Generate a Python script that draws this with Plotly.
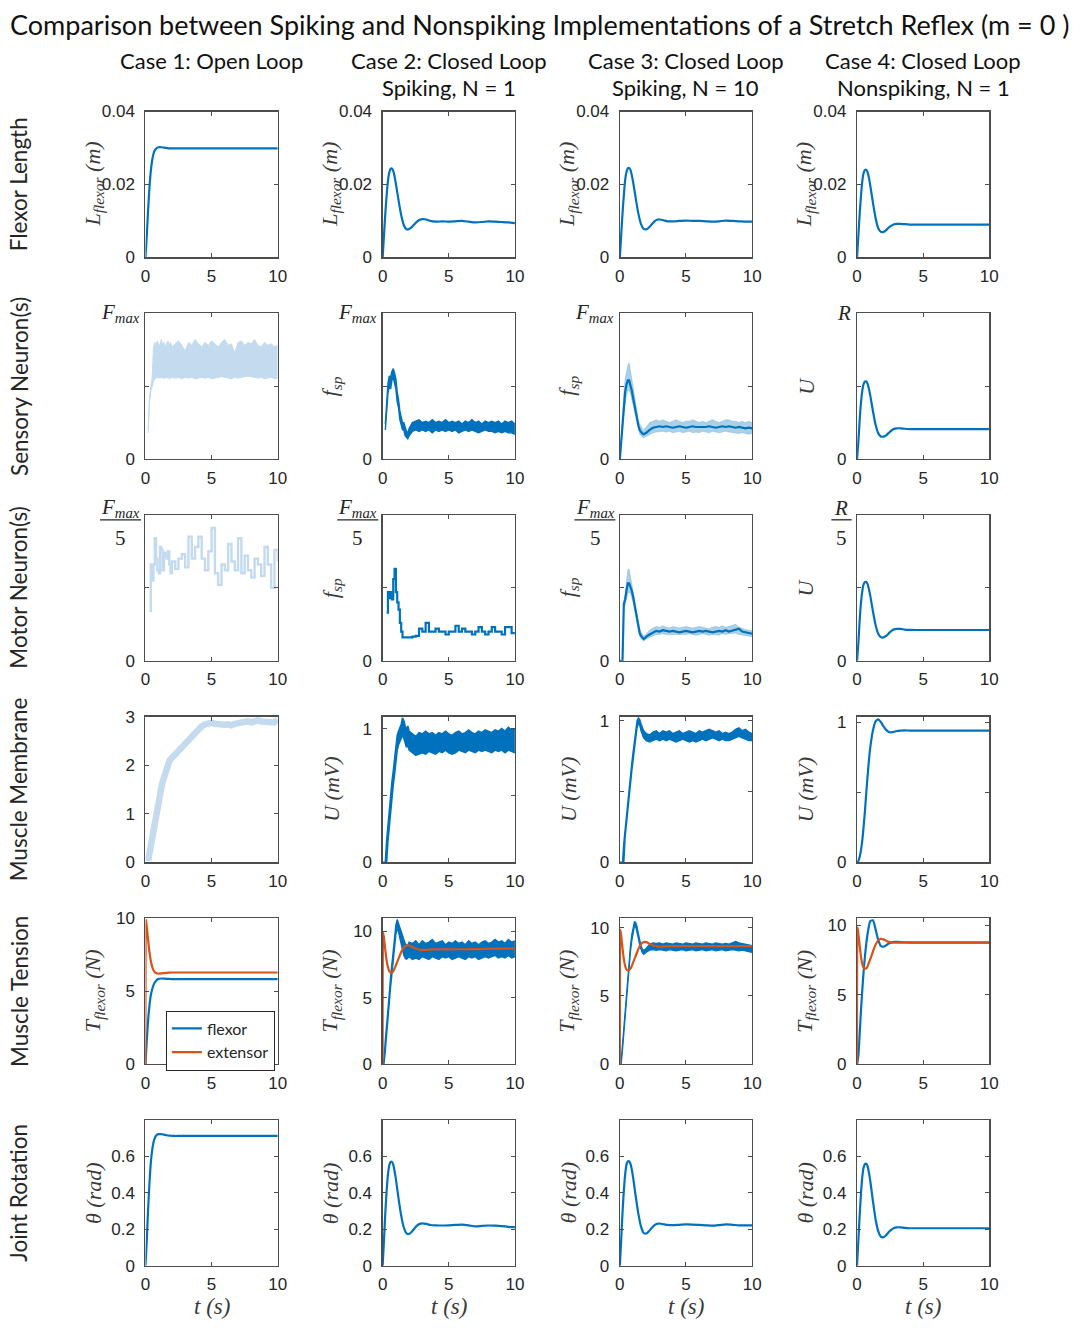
import plotly.graph_objects as go

# ---------------- data ----------------
# time grids (s)
T_S = [0, 0.1, 0.2, 0.3, 0.4, 0.5, 0.6, 0.7, 0.8, 0.9, 1.0,
       1.2, 1.4, 1.6, 1.8, 2.0, 2.2, 2.4, 2.6, 2.8, 3.0,
       3.3, 3.6, 4.0,
       4.5, 5.0, 5.5, 6.0, 6.5, 7.0, 7.5, 8.0, 8.5, 9.0, 9.5, 10.0]
T_E = [0, 0.04, 0.1, 0.2, 0.3, 0.4, 0.5, 0.6, 0.7, 0.8, 0.9, 1.0,
       1.2, 1.4, 1.6, 1.8, 2.0, 2.2, 2.4, 2.6, 2.8, 3.0,
       3.3, 3.6, 4.0,
       4.5, 5.0, 5.5, 6.0, 6.5, 7.0, 7.5, 8.0, 8.5, 9.0, 9.5, 10.0]
T_B = [0, 0.1, 0.2, 0.3, 0.4, 0.5, 0.6, 0.7, 0.8, 0.9, 1.0,
       1.1, 1.2, 1.3, 1.4, 1.5, 1.6, 1.7, 1.8, 1.9, 2.0,
       2.25, 2.5, 2.75, 3.0, 3.25, 3.5, 3.75, 4.0, 4.25, 4.5, 4.75, 5.0,
       5.25, 5.5, 5.75, 6.0, 6.25, 6.5, 6.75, 7.0, 7.25, 7.5, 7.75, 8.0,
       8.25, 8.5, 8.75, 9.0, 9.25, 9.5, 9.75, 10.0]

# Row 1: flexor length (m)
len_c1 = [0, 0.006, 0.013, 0.019, 0.0235, 0.0265, 0.0283, 0.0293, 0.0298, 0.0301, 0.0302,
          0.0302, 0.0301, 0.0300, 0.0299, 0.0299, 0.0299, 0.0299, 0.0299, 0.0299, 0.0299,
          0.0299, 0.0299, 0.0299] + [0.0299] * 12
len_c2 = [0, 0.006, 0.012, 0.017, 0.0210, 0.0233, 0.0243, 0.0244, 0.0237, 0.0222, 0.0202,
          0.0157, 0.0116, 0.0088, 0.0077, 0.0078, 0.0083, 0.0091, 0.0098, 0.0103, 0.0105,
          0.0104, 0.0100, 0.0098,
          0.0099, 0.0098, 0.0099, 0.0100, 0.0098, 0.0096, 0.0097, 0.0099, 0.0098, 0.0097, 0.0096, 0.0094]
len_c3 = [0, 0.006, 0.012, 0.017, 0.0212, 0.0234, 0.0244, 0.0245, 0.0240, 0.0226, 0.0207,
          0.0162, 0.0120, 0.0091, 0.0078, 0.0077, 0.0082, 0.0090, 0.0098, 0.0103, 0.0104,
          0.0102, 0.0099, 0.0099,
          0.0100, 0.0101, 0.0100, 0.0100, 0.0099, 0.0098, 0.0099, 0.0101, 0.0100, 0.0099, 0.0098, 0.0098]
len_c4 = [0, 0.006, 0.012, 0.017, 0.0210, 0.0232, 0.0240, 0.0240, 0.0233, 0.0218, 0.0197,
          0.0150, 0.0108, 0.0080, 0.0070, 0.0070, 0.0075, 0.0082, 0.0087, 0.0091, 0.0092,
          0.0092, 0.0091, 0.0090] + [0.0090] * 12

# Row 2: sensory neuron(s), fraction of Fmax / R
sens_c1_hi = [0.20, 0.42, 0.50, 0.55, 0.76, 0.80, 0.78, 0.81, 0.79, 0.77, 0.82, 0.78, 0.80, 0.77, 0.79, 0.81, 0.78, 0.80, 0.77,
              0.79, 0.81, 0.78, 0.74, 0.80, 0.78, 0.82, 0.79, 0.77, 0.80, 0.78, 0.81, 0.79, 0.77, 0.80, 0.82,
              0.78, 0.79, 0.73, 0.80, 0.81, 0.78, 0.80, 0.79, 0.82, 0.78, 0.77, 0.80, 0.78, 0.79, 0.77, 0.78]
sens_c1_lo = [0.18, 0.38, 0.46, 0.50, 0.53, 0.55, 0.555, 0.56, 0.555, 0.56, 0.555, 0.56, 0.55, 0.56, 0.555, 0.56, 0.55, 0.555, 0.56,
              0.555, 0.56, 0.55, 0.56, 0.555, 0.56, 0.55, 0.555, 0.56, 0.555, 0.56, 0.55, 0.555, 0.56, 0.565, 0.56,
              0.555, 0.55, 0.56, 0.555, 0.56, 0.565, 0.57, 0.565, 0.56, 0.555, 0.56, 0.55, 0.555, 0.56, 0.55, 0.555]
sens_c2_hi = [0.24, 0.40, 0.52, 0.57, 0.56, 0.60, 0.62, 0.59, 0.55, 0.46, 0.41, 0.33, 0.29, 0.25, 0.25, 0.21, 0.19, 0.18, 0.21,
              0.25, 0.26, 0.27, 0.25, 0.26, 0.25, 0.27, 0.25, 0.26, 0.25, 0.27, 0.25, 0.26, 0.25, 0.26, 0.24,
              0.26, 0.25, 0.27, 0.25, 0.26, 0.24, 0.26, 0.25, 0.26, 0.25, 0.26, 0.24, 0.26, 0.25, 0.26, 0.24]
sens_c2_lo = [0.20, 0.33, 0.45, 0.50, 0.48, 0.54, 0.56, 0.52, 0.48, 0.39, 0.35, 0.27, 0.24, 0.20, 0.20, 0.16, 0.15, 0.14, 0.16,
              0.19, 0.20, 0.19, 0.20, 0.19, 0.20, 0.18, 0.20, 0.19, 0.20, 0.19, 0.20, 0.19, 0.20, 0.18, 0.19,
              0.20, 0.19, 0.20, 0.19, 0.18, 0.19, 0.20, 0.19, 0.19, 0.18, 0.19, 0.18, 0.19, 0.18, 0.18, 0.17]
sens_c3_mean = [0, 0.12, 0.26, 0.38, 0.46, 0.51, 0.54, 0.54, 0.51, 0.47, 0.42, 0.37, 0.32, 0.27, 0.23, 0.20, 0.185, 0.175, 0.17, 0.175, 0.18,
                0.20, 0.215, 0.22, 0.225, 0.22, 0.225, 0.22, 0.215, 0.22, 0.225, 0.22, 0.215, 0.22, 0.225, 0.22, 0.22,
                0.215, 0.22, 0.225, 0.22, 0.215, 0.22, 0.225, 0.22, 0.225, 0.22, 0.215, 0.22, 0.215, 0.21, 0.215, 0.21]
sens_c3_hi = [0, 0.16, 0.32, 0.45, 0.55, 0.60, 0.64, 0.66, 0.61, 0.56, 0.50, 0.44, 0.38, 0.32, 0.27, 0.24, 0.22, 0.21, 0.20, 0.21, 0.22,
              0.25, 0.26, 0.27, 0.26, 0.27, 0.26, 0.25, 0.26, 0.27, 0.26, 0.25, 0.26, 0.26, 0.27, 0.26, 0.25,
              0.26, 0.25, 0.26, 0.27, 0.26, 0.25, 0.26, 0.27, 0.27, 0.26, 0.26, 0.25, 0.26, 0.25, 0.26, 0.25]
sens_c3_lo = [0, 0.08, 0.20, 0.31, 0.39, 0.44, 0.47, 0.47, 0.45, 0.41, 0.36, 0.31, 0.27, 0.23, 0.20, 0.17, 0.16, 0.15, 0.145, 0.15, 0.155,
              0.17, 0.18, 0.185, 0.19, 0.19, 0.185, 0.19, 0.18, 0.185, 0.19, 0.18, 0.185, 0.19, 0.18, 0.185, 0.18,
              0.19, 0.185, 0.18, 0.19, 0.185, 0.18, 0.185, 0.19, 0.185, 0.18, 0.18, 0.175, 0.18, 0.175, 0.17, 0.175]
sens_c4 = [0, 0.12, 0.27, 0.39, 0.47, 0.515, 0.532, 0.532, 0.515, 0.48, 0.435,
           0.33, 0.235, 0.178, 0.155, 0.154, 0.163, 0.18, 0.196, 0.207, 0.211,
           0.211, 0.208, 0.206] + [0.205] * 12

# Row 3: motor neuron(s), fraction of Fmax/5 / R/5
mot_c1 = [0.34, 0.66, 0.55, 0.66, 0.84, 0.70, 0.62, 0.60, 0.78, 0.76, 0.62, 0.74, 0.72, 0.70, 0.75, 0.66, 0.60, 0.68,
          0.63, 0.70, 0.73, 0.64, 0.85, 0.70, 0.78, 0.85, 0.70, 0.62, 0.75, 0.91, 0.60, 0.52, 0.66, 0.62,
          0.80, 0.68, 0.62, 0.84, 0.60, 0.72, 0.62, 0.57, 0.70, 0.66, 0.58, 0.78, 0.66, 0.50, 0.76, 0.68]
mot_c2 = [0.33, 0.47, 0.43, 0.47, 0.42, 0.56, 0.63, 0.47, 0.40, 0.35, 0.26, 0.20, 0.16, 0.16, 0.16, 0.16, 0.16, 0.16,
          0.165, 0.17, 0.22, 0.20, 0.26, 0.20, 0.20, 0.22, 0.20, 0.20, 0.18, 0.20, 0.20, 0.24, 0.20, 0.22,
          0.20, 0.20, 0.18, 0.20, 0.23, 0.20, 0.18, 0.20, 0.23, 0.20, 0.20, 0.18, 0.23, 0.23, 0.19, 0.19]
mot_c3_mean = [0, 0, 0, 0.39, 0.42, 0.48, 0.53, 0.53, 0.51, 0.48, 0.44, 0.39, 0.33, 0.28, 0.23, 0.19, 0.17, 0.155, 0.15, 0.155, 0.165,
               0.18, 0.195, 0.205, 0.20, 0.21, 0.205, 0.20, 0.205, 0.20, 0.195, 0.20, 0.205, 0.20, 0.195, 0.20, 0.205,
               0.20, 0.205, 0.20, 0.195, 0.20, 0.205, 0.20, 0.21, 0.20, 0.205, 0.21, 0.22, 0.20, 0.195, 0.19, 0.185]
mot_c3_hi = [0, 0, 0, 0.41, 0.46, 0.55, 0.62, 0.63, 0.58, 0.53, 0.48, 0.43, 0.37, 0.31, 0.26, 0.22, 0.195, 0.18, 0.17, 0.175, 0.185,
             0.21, 0.225, 0.235, 0.23, 0.24, 0.23, 0.225, 0.235, 0.23, 0.225, 0.23, 0.235, 0.23, 0.225, 0.23, 0.235,
             0.23, 0.225, 0.22, 0.23, 0.235, 0.23, 0.24, 0.23, 0.235, 0.245, 0.25, 0.23, 0.22, 0.215, 0.21, 0.205]
mot_c3_lo = [0, 0, 0, 0.36, 0.38, 0.42, 0.46, 0.47, 0.46, 0.43, 0.40, 0.35, 0.30, 0.25, 0.205, 0.17, 0.15, 0.14, 0.135, 0.14, 0.15,
             0.16, 0.17, 0.18, 0.18, 0.185, 0.18, 0.18, 0.175, 0.18, 0.18, 0.175, 0.18, 0.185, 0.18, 0.175, 0.18,
             0.185, 0.18, 0.175, 0.18, 0.18, 0.175, 0.185, 0.18, 0.185, 0.19, 0.19, 0.18, 0.175, 0.17, 0.165, 0.165]
mot_c4 = [0, 0.12, 0.28, 0.40, 0.48, 0.525, 0.54, 0.54, 0.525, 0.49, 0.445,
          0.34, 0.245, 0.186, 0.162, 0.16, 0.17, 0.188, 0.205, 0.215, 0.219,
          0.218, 0.214, 0.212] + [0.211] * 12

# Row 4: muscle membrane U (mV)
mem_c1 = [0.03, 0.20, 0.36, 0.52, 0.68, 0.86, 1.03, 1.17, 1.30, 1.42, 1.54, 1.66, 1.77, 1.88, 1.97, 2.04, 2.08, 2.12, 2.15,
          2.21, 2.27, 2.34, 2.42, 2.50, 2.58, 2.66, 2.74, 2.80, 2.84, 2.86, 2.87, 2.85, 2.84, 2.82, 2.83,
          2.84, 2.82, 2.85, 2.87, 2.89, 2.90, 2.90, 2.88, 2.91, 2.92, 2.90, 2.89, 2.91, 2.90, 2.88, 2.94]
mem_c2_hi = [0, 0, 0, 0.16, 0.28, 0.40, 0.50, 0.60, 0.68, 0.78, 0.88, 0.95, 0.98, 1.00, 1.03, 1.08, 1.06, 1.02, 0.99, 1.02, 0.98,
             0.96, 0.94, 0.97, 0.96, 0.98, 0.96, 0.97, 0.95, 0.97, 0.96, 0.98, 0.96, 0.95, 0.97, 0.98, 0.96,
             0.97, 0.99, 0.97, 0.96, 0.98, 0.97, 0.99, 0.98, 0.97, 0.99, 0.98, 1.00, 0.98, 1.01, 0.99, 1.00]
mem_c2_lo = [0, 0, 0, 0, 0.16, 0.28, 0.38, 0.48, 0.58, 0.66, 0.76, 0.84, 0.88, 0.90, 0.92, 0.95, 0.93, 0.90, 0.86, 0.88, 0.84,
             0.82, 0.80, 0.81, 0.82, 0.81, 0.83, 0.82, 0.81, 0.83, 0.82, 0.84, 0.82, 0.81, 0.82, 0.84, 0.83,
             0.82, 0.84, 0.83, 0.82, 0.84, 0.83, 0.84, 0.83, 0.82, 0.84, 0.83, 0.84, 0.82, 0.84, 0.83, 0.82]
mem_c3_hi = [0, 0, 0, 0.14, 0.24, 0.34, 0.44, 0.53, 0.62, 0.70, 0.78, 0.86, 0.94, 1.00, 1.02, 1.01, 0.98, 0.95, 0.93, 0.92, 0.91,
             0.90, 0.92, 0.93, 0.91, 0.93, 0.92, 0.93, 0.91, 0.92, 0.93, 0.91, 0.92, 0.93, 0.92, 0.91, 0.93,
             0.92, 0.93, 0.94, 0.93, 0.92, 0.93, 0.91, 0.92, 0.91, 0.92, 0.94, 0.95, 0.93, 0.94, 0.92, 0.91]
mem_c3_lo = [0, 0, 0, 0, 0.18, 0.28, 0.38, 0.47, 0.56, 0.64, 0.72, 0.80, 0.88, 0.95, 0.98, 0.97, 0.93, 0.90, 0.88, 0.87, 0.86,
             0.85, 0.86, 0.87, 0.86, 0.87, 0.86, 0.87, 0.86, 0.85, 0.86, 0.87, 0.86, 0.85, 0.86, 0.85, 0.86,
             0.87, 0.86, 0.87, 0.88, 0.87, 0.86, 0.87, 0.86, 0.86, 0.87, 0.88, 0.89, 0.88, 0.87, 0.86, 0.86]
mem_c4 = [0, 0.01, 0.04, 0.09, 0.16, 0.26, 0.37, 0.50, 0.62, 0.73, 0.82,
          0.94, 1.005, 1.02, 1.00, 0.97, 0.945, 0.93, 0.928, 0.932, 0.937,
          0.94, 0.941, 0.94] + [0.94] * 12

# Row 5: muscle tension (N)
flex_c1 = [0, 1.6, 3.0, 4.0, 4.7, 5.1, 5.4, 5.6, 5.72, 5.8, 5.84,
           5.87, 5.86, 5.85, 5.84, 5.83, 5.82, 5.82, 5.82, 5.82, 5.82,
           5.82, 5.82, 5.82] + [5.82] * 12
ext_c1 = [0, 9.9, 9.4, 8.5, 7.7, 7.1, 6.7, 6.45, 6.32, 6.25, 6.22, 6.21,
          6.22, 6.24, 6.26, 6.27, 6.28, 6.28, 6.28, 6.28, 6.28, 6.28,
          6.28, 6.28, 6.28] + [6.28] * 12
flex_c2_hi = [0, 0.4, 1.8, 3.2, 4.2, 5.3, 6.6, 7.6, 8.6, 9.6, 10.5, 10.9, 10.6, 10.2, 9.9, 9.6, 9.4, 9.1, 9.0, 8.9, 9.2,
              9.1, 9.3, 9.0, 9.3, 9.1, 9.2, 9.4, 9.1, 9.2, 9.3, 9.0, 9.2, 9.1, 9.3, 9.1, 9.2,
              9.0, 9.3, 9.1, 9.2, 9.0, 9.2, 9.3, 9.1, 9.2, 9.4, 9.2, 9.3, 9.1, 9.4, 9.2, 9.3]
flex_c2_lo = [0, 0, 1.0, 2.4, 3.5, 4.6, 5.8, 6.9, 7.8, 8.8, 9.8, 10.2, 10.0, 9.5, 9.0, 8.6, 8.2, 8.0, 7.9, 8.0, 8.1,
              7.9, 8.0, 7.9, 8.1, 8.0, 7.9, 8.1, 8.0, 7.9, 8.1, 8.0, 8.1, 7.9, 8.0, 8.1, 8.0,
              7.9, 8.1, 8.0, 8.1, 7.9, 8.0, 8.1, 8.0, 8.1, 8.2, 8.0, 8.1, 8.0, 8.2, 8.0, 8.1]
ext_c2 = [0, 9.9, 9.5, 8.6, 7.8, 7.3, 7.0, 6.9, 6.9, 7.0, 7.2, 7.45,
          7.95, 8.45, 8.8, 8.95, 8.95, 8.85, 8.75, 8.68, 8.64, 8.62,
          8.62, 8.64, 8.65,
          8.66, 8.65, 8.66, 8.66, 8.66, 8.67, 8.68, 8.70, 8.70, 8.71, 8.72, 8.72]
flex_c3_hi = [0, 0.3, 1.5, 2.8, 4.1, 5.4, 6.6, 7.7, 8.7, 9.5, 10.1, 10.45, 10.4, 10.1, 9.6, 9.1, 8.7, 8.45, 8.35, 8.4, 8.5,
              8.8, 8.9, 8.85, 8.9, 8.8, 8.9, 8.85, 8.8, 8.9, 8.85, 8.8, 8.9, 8.85, 8.8, 8.9, 8.85,
              8.8, 8.9, 8.85, 8.8, 8.9, 8.85, 8.8, 8.85, 8.8, 8.9, 9.0, 8.9, 8.85, 8.8, 8.75, 8.7]
flex_c3_lo = [0, 0, 1.0, 2.3, 3.6, 4.9, 6.1, 7.2, 8.2, 9.0, 9.7, 10.1, 10.05, 9.7, 9.2, 8.7, 8.35, 8.15, 8.05, 8.1, 8.2,
              8.35, 8.4, 8.35, 8.4, 8.35, 8.3, 8.4, 8.35, 8.3, 8.35, 8.4, 8.3, 8.35, 8.4, 8.3, 8.35,
              8.4, 8.3, 8.35, 8.4, 8.3, 8.35, 8.4, 8.3, 8.35, 8.4, 8.35, 8.3, 8.35, 8.3, 8.25, 8.2]
ext_c3 = [0, 9.85, 9.4, 8.5, 7.7, 7.2, 6.95, 6.88, 6.9, 7.0, 7.2, 7.45,
          7.95, 8.45, 8.8, 8.95, 8.95, 8.85, 8.75, 8.68, 8.64, 8.62,
          8.62, 8.64, 8.65] + [8.66] * 12
flex_c4 = [0, 0.6, 2.2, 3.9, 5.4, 6.7, 7.8, 8.7, 9.4, 9.95, 10.3,
           10.35, 9.7, 8.95, 8.5, 8.45, 8.55, 8.68, 8.76, 8.8, 8.8,
           8.78, 8.76, 8.75] + [8.75] * 12
ext_c4 = [0, 9.85, 9.4, 8.5, 7.7, 7.2, 6.95, 6.88, 6.9, 7.05, 7.3, 7.55,
          8.1, 8.6, 8.92, 9.02, 8.98, 8.88, 8.8, 8.76, 8.74, 8.74,
          8.75, 8.76, 8.76] + [8.76] * 12

# Row 6: joint rotation (rad)
th_c1 = [0, 0.14, 0.31, 0.45, 0.56, 0.63, 0.675, 0.70, 0.713, 0.72, 0.722,
         0.722, 0.719, 0.716, 0.714, 0.713, 0.712, 0.712, 0.712, 0.712, 0.712,
         0.712, 0.712, 0.712] + [0.712] * 12
th_c2 = [0, 0.14, 0.29, 0.41, 0.50, 0.55, 0.57, 0.57, 0.555, 0.52, 0.475,
         0.37, 0.275, 0.21, 0.178, 0.175, 0.187, 0.205, 0.22, 0.23, 0.233,
         0.23, 0.224, 0.222,
         0.221, 0.222, 0.224, 0.226, 0.222, 0.216, 0.219, 0.221, 0.220, 0.218, 0.214, 0.212]
th_c3 = [0, 0.14, 0.29, 0.41, 0.50, 0.555, 0.572, 0.573, 0.56, 0.53, 0.485,
         0.38, 0.285, 0.215, 0.18, 0.177, 0.19, 0.207, 0.222, 0.23, 0.232,
         0.228, 0.224, 0.223,
         0.225, 0.227, 0.226, 0.224, 0.222, 0.220, 0.223, 0.227, 0.225, 0.222, 0.222, 0.222]
th_c4 = [0, 0.14, 0.28, 0.40, 0.49, 0.54, 0.558, 0.56, 0.545, 0.51, 0.465,
         0.355, 0.255, 0.19, 0.16, 0.157, 0.168, 0.185, 0.198, 0.207, 0.211,
         0.211, 0.208, 0.206] + [0.206] * 12

# text
TITLE = "Comparison between Spiking and Nonspiking Implementations of a Stretch Reflex (m = 0 )"
CASE_L1 = ["Case 1: Open Loop", "Case 2: Closed Loop", "Case 3: Closed Loop", "Case 4: Closed Loop"]
CASE_L2 = ["", "Spiking, N = 1", "Spiking, N = 10", "Nonspiking, N = 1"]
ROW_NAMES = ["Flexor Length", "Sensory Neuron(s)", "Motor Neuron(s)", "Muscle Membrane", "Muscle Tension", "Joint Rotation"]
X_TICKS = [0, 5, 10]

# ---------------- styling / layout ----------------
BLUE = "#0072BD"
ORANGE = "#D95319"
LIGHT = "#C4DBEF"
BAND = "rgba(0,114,189,0.33)"
AXC = "#4d4d4d"
TXT = "#262626"
LAB = "#3a3a3a"
SANS = "Lato"
TICKF = "Liberation Sans"
SERIF = "Liberation Serif"

W, H = 1084, 1332
COL_L = [142.3, 382.6, 622.9, 863.2]
COL_W = 134.0
ROW_T = [104.0, 308.6, 513.2, 717.8, 922.4, 1127.0]
ROW_H = 148.0

fig = go.Figure()


def ids(r, c):
    n = r * 4 + c + 1
    return ("x" if n == 1 else f"x{n}"), ("y" if n == 1 else f"y{n}"), n


def add_line(r, c, x, y, color, width=2.2, shape="linear", name=None, legend=False,
             fill=None, fillcolor=None):
    assert len(x) == len(y), (r, c, len(x), len(y))
    xa, ya, _ = ids(r, c)
    ln = dict(color=color, width=width, shape=shape)
    if shape == "spline":
        ln["smoothing"] = 0.6
    fig.add_trace(go.Scatter(x=x, y=y, mode="lines", xaxis=xa, yaxis=ya, line=ln,
                             showlegend=legend, name=name, fill=fill, fillcolor=fillcolor,
                             hoverinfo="skip"))


def add_band(r, c, x, lo, hi, fillcolor, edgecolor, edge_w):
    add_line(r, c, x, lo, edgecolor, edge_w)
    add_line(r, c, x, hi, edgecolor, edge_w, fill="tonexty", fillcolor=fillcolor)


# Row 1
for c, series in enumerate([len_c1, len_c2, len_c3, len_c4]):
    add_line(0, c, T_S, series, BLUE, 2.2, "spline")

# Row 2
add_band(1, 0, T_B[2:], sens_c1_lo, sens_c1_hi, LIGHT, LIGHT, 1.0)
add_band(1, 1, T_B[2:], sens_c2_lo, sens_c2_hi, BLUE, BLUE, 1.4)
add_band(1, 2, T_B, sens_c3_lo, sens_c3_hi, BAND, "rgba(0,114,189,0.35)", 0.6)
add_line(1, 2, T_B, sens_c3_mean, BLUE, 2.2)
add_line(1, 3, T_S, sens_c4, BLUE, 2.2, "spline")

# Row 3
add_line(2, 0, T_B[3:], mot_c1, LIGHT, 2.4, "hv")
add_line(2, 1, T_B[3:], mot_c2, BLUE, 2.2, "hv")
add_band(2, 2, T_B, mot_c3_lo, mot_c3_hi, BAND, "rgba(0,114,189,0.35)", 0.6)
add_line(2, 2, T_B, mot_c3_mean, BLUE, 2.2)
add_line(2, 3, T_S, mot_c4, BLUE, 2.2, "spline")

# Row 4
add_line(3, 0, T_B[2:], mem_c1, LIGHT, 6.5)
add_band(3, 1, T_B, mem_c2_lo, mem_c2_hi, BLUE, BLUE, 1.6)
add_band(3, 2, T_B, mem_c3_lo, mem_c3_hi, BLUE, BLUE, 1.4)
add_line(3, 3, T_S, mem_c4, BLUE, 2.2, "spline")

# Row 5
add_line(4, 0, T_S, flex_c1, BLUE, 2.2, "spline", name="flexor", legend=True)
add_line(4, 0, T_E, ext_c1, ORANGE, 2.2, "spline", name="extensor", legend=True)
add_band(4, 1, T_B, flex_c2_lo, flex_c2_hi, BLUE, BLUE, 1.4)
add_line(4, 1, T_E, ext_c2, ORANGE, 2.2, "spline")
add_band(4, 2, T_B, flex_c3_lo, flex_c3_hi, BLUE, BLUE, 1.2)
add_line(4, 2, T_E, ext_c3, ORANGE, 2.2, "spline")
add_line(4, 3, T_S, flex_c4, BLUE, 2.2, "spline")
add_line(4, 3, T_E, ext_c4, ORANGE, 2.2, "spline")

# Row 6
for c, series in enumerate([th_c1, th_c2, th_c3, th_c4]):
    add_line(5, c, T_S, series, BLUE, 2.2, "spline")

# y-axis configuration per row: range, labelled ticks, unlabelled (minor) ticks
Y_RANGE = [
    [[0, 0.04]] * 4,
    [[0, 1]] * 4,
    [[0, 1]] * 4,
    [[0, 3], [0, 1.09], [0, 1.03], [0, 1.04]],
    [[0, 10], [0, 11], [0, 10.7], [0, 10.5]],
    [[0, 0.8]] * 4,
]
Y_TICKS = [
    [[0, 0.02, 0.04]] * 4,
    [[0]] * 4,
    [[0]] * 4,
    [[0, 1, 2, 3]] + [[0, 1]] * 3,
    [[0, 5, 10]] * 4,
    [[0, 0.2, 0.4, 0.6]] * 4,
]
Y_MINOR = [
    [[]] * 4,
    [[0.5, 1]] * 4,
    [[0.5, 1]] * 4,
    [[]] + [[0.5]] * 3,
    [[]] * 4,
    [[0.8]] * 4,
]


def it(s):
    return f"<i>{s}</i>"


Y_TITLES = [
    [it("L") + "<sub>" + it("flexor") + "</sub> " + it("(m)")] * 4,
    ["", it("f") + "<sub>" + it("sp") + "</sub>", it("f") + "<sub>" + it("sp") + "</sub>", it("U")],
    ["", it("f") + "<sub>" + it("sp") + "</sub>", it("f") + "<sub>" + it("sp") + "</sub>", it("U")],
    ["", it("U (mV)"), it("U (mV)"), it("U (mV)")],
    [it("T") + "<sub>" + it("flexor") + "</sub> " + it("(N)")] * 4,
    [it("θ (rad)")] * 4,
]

layout = {}
annotations = []
shapes = []
axis_common = dict(showline=True, linecolor=AXC, linewidth=1.2, mirror="ticks",
                   ticks="inside", ticklen=4, tickwidth=1, tickcolor=AXC,
                   showgrid=False, zeroline=False, fixedrange=True,
                   tickfont=dict(family=TICKF, size=17, color=TXT))


def fmt(v):
    return f"{v:g}"


for r in range(6):
    for c in range(4):
        xa, ya, n = ids(r, c)
        xk = "xaxis" if n == 1 else f"xaxis{n}"
        yk = "yaxis" if n == 1 else f"yaxis{n}"
        x0 = COL_L[c] / W
        x1 = (COL_L[c] + COL_W) / W
        y1 = 1 - ROW_T[r] / H
        y0 = 1 - (ROW_T[r] + ROW_H) / H
        layout[xk] = dict(domain=[x0, x1], anchor=ya, range=[0, 10],
                          tickvals=X_TICKS, ticktext=[fmt(v) for v in X_TICKS],
                          ticklabelstandoff=3, **axis_common)
        tv = Y_TICKS[r][c]
        ydict = dict(domain=[y0, y1], anchor=xa, range=Y_RANGE[r][c],
                     tickvals=tv, ticktext=[fmt(v) for v in tv], ticklabelstandoff=6, **axis_common)
        if Y_MINOR[r][c]:
            ydict["minor"] = dict(tickmode="array", tickvals=Y_MINOR[r][c], ticks="inside",
                                  ticklen=4, tickwidth=1, tickcolor=AXC, showgrid=False)
        layout[yk] = ydict
        # y title
        if Y_TITLES[r][c]:
            annotations.append(dict(text=Y_TITLES[r][c], xref=f"{xa} domain", yref=f"{ya} domain",
                                    x=-52 / COL_W, y=0.5, xanchor="center", yanchor="middle",
                                    textangle=-90, showarrow=False,
                                    font=dict(family=SERIF, size=22, color=LAB)))
        # x title on bottom row
        if r == 5:
            annotations.append(dict(text=it("t (s)"), xref=f"{xa} domain", yref=f"{ya} domain",
                                    x=0.5, y=-41 / ROW_H, xanchor="center", yanchor="middle",
                                    showarrow=False, font=dict(family=SERIF, size=23, color=LAB)))
        # top labels for neuron rows
        sym = (it("F") + "<sub>" + it("max") + "</sub>") if c < 3 else it("R")
        if r == 1:
            annotations.append(dict(text=sym, xref=f"{xa} domain", yref=f"{ya} domain",
                                    x=-4 / COL_W, y=1, xanchor="right", yanchor="middle",
                                    showarrow=False, font=dict(family=SERIF, size=21, color=TXT)))
        if r == 2:
            cx = -25 if c < 3 else -16
            bx0, bx1 = (-46, -4.5) if c < 3 else (-26, -5.5)
            annotations.append(dict(text=sym, xref=f"{xa} domain", yref=f"{ya} domain",
                                    x=cx / COL_W, y=1 + 7 / ROW_H, xanchor="center", yanchor="middle",
                                    showarrow=False, font=dict(family=SERIF, size=21, color=TXT)))
            annotations.append(dict(text="5", xref=f"{xa} domain", yref=f"{ya} domain",
                                    x=cx / COL_W, y=1 - 23 / ROW_H, xanchor="center", yanchor="middle",
                                    showarrow=False, font=dict(family=SERIF, size=21, color=TXT)))
            shapes.append(dict(type="line", xref=f"{xa} domain", yref=f"{ya} domain",
                               x0=bx0 / COL_W, x1=bx1 / COL_W, y0=1 - 5 / ROW_H, y1=1 - 5 / ROW_H,
                               line=dict(color=TXT, width=1.3)))

# title, column headers, row labels
annotations.append(dict(text=TITLE, xref="paper", yref="paper", x=541.5 / W, y=1 - 16 / H,
                        xanchor="center", yanchor="middle", showarrow=False,
                        font=dict(family=SANS, size=27, color="#111111")))
for c in range(4):
    cx = (COL_L[c] + COL_W / 2) / W
    annotations.append(dict(text=CASE_L1[c], xref="paper", yref="paper", x=cx, y=1 - 52 / H,
                            xanchor="center", yanchor="middle", showarrow=False,
                            font=dict(family=SANS, size=22, color="#111111")))
    if CASE_L2[c]:
        annotations.append(dict(text=CASE_L2[c], xref="paper", yref="paper", x=cx, y=1 - 80 / H,
                                xanchor="center", yanchor="middle", showarrow=False,
                                font=dict(family=SANS, size=22, color="#111111")))
for r in range(6):
    cy = 1 - (ROW_T[r] + ROW_H / 2) / H
    annotations.append(dict(text=ROW_NAMES[r], xref="paper", yref="paper", x=14 / W, y=cy,
                            xanchor="center", yanchor="middle", textangle=-90, showarrow=False,
                            font=dict(family=SANS, size=22.5, color=TXT)))

fig.update_layout(
    width=W, height=H,
    margin=dict(l=0, r=0, t=0, b=0),
    paper_bgcolor="white", plot_bgcolor="white",
    hovermode=False,
    annotations=annotations,
    shapes=shapes,
    legend=dict(x=163 / W, y=1 - 1016 / H, xanchor="left", yanchor="top",
                traceorder="normal",
                bgcolor="white", bordercolor=TXT, borderwidth=1,
                font=dict(family=SANS, size=16, color=TXT),
                tracegroupgap=0, itemwidth=30),
    **layout,
)

PAGE_FIX = ("document.documentElement.style.margin='0px';"
            "document.body.style.margin='0px';"
            "document.documentElement.style.overflow='hidden';"
            "document.body.style.overflow='hidden';"
            "var gd=document.getElementById('{plot_id}');"
            "gd.style.position='fixed';gd.style.left='0px';gd.style.top='0px';")

fig.write_html("out.html",
               config={"displayModeBar": False, "staticPlot": True},
               post_script=PAGE_FIX)
